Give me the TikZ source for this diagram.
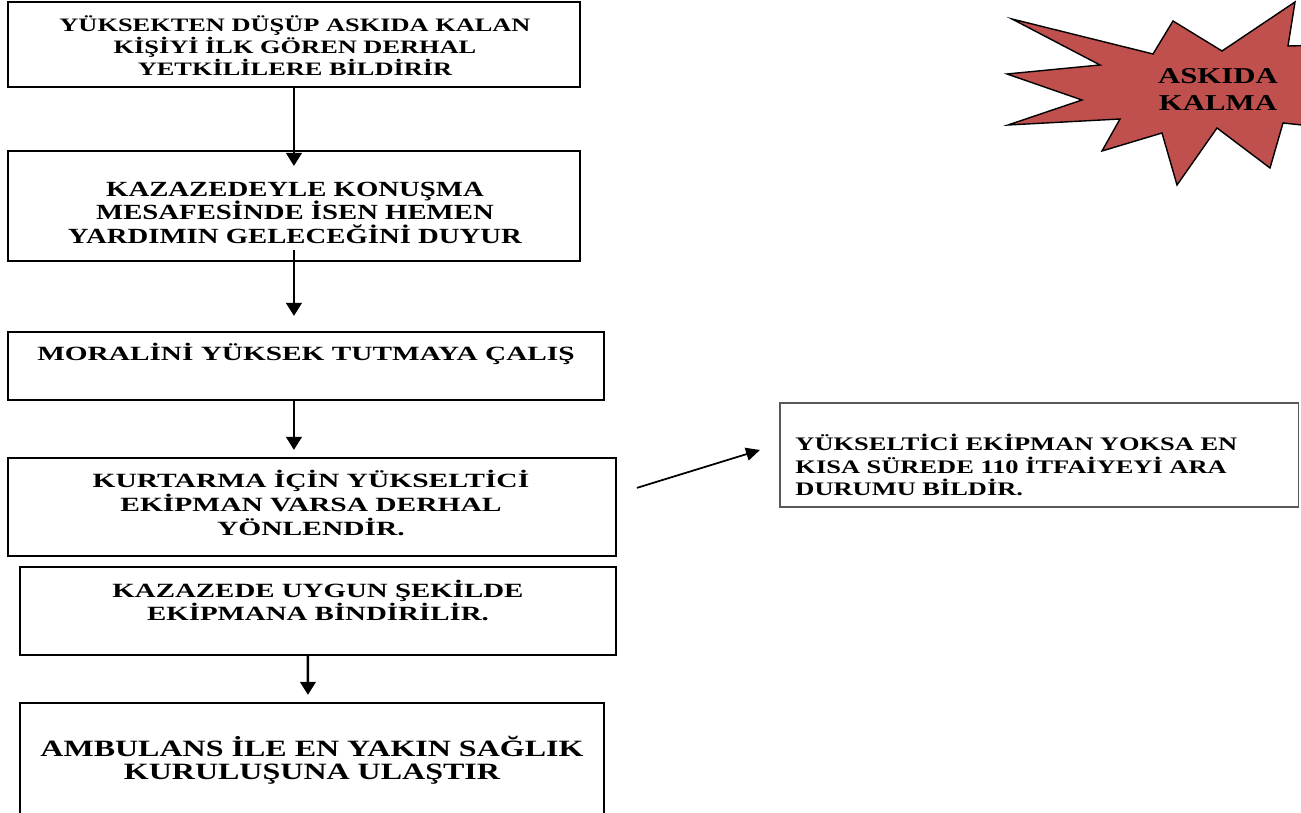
\documentclass[tikz,border=0pt]{standalone}
\usepackage{fontspec}
\setmainfont{Liberation Serif}
\usetikzlibrary{positioning, arrows.meta, calc}
\definecolor{starred}{HTML}{C0504D}
\tikzset{
  stepbox/.style = {rectangle, draw=black, line width=1pt, inner sep=0pt, outer sep=0pt},
  sidebox/.style = {rectangle, draw=black!65, line width=0.6pt, inner sep=0pt, outer sep=0pt},
  txt/.style     = {align=center, inner sep=0pt, font=\bfseries},
  wide/.style    = {xscale=#1, transform shape},
  flow/.style    = {line width=1.4pt, -{Triangle[length=2.6mm, width=3.1mm]}},
  side/.style    = {line width=1pt, -{Triangle[length=2.8mm, width=2.6mm]}},
  burst/.style   = {draw=black, line width=0.8pt, fill=starred, line join=miter},
}
\newcommand{\fsz}[2]{\fontsize{#1}{#2}\selectfont\lineskiplimit=-30pt\lineskip=0pt}

\begin{document}
\begin{tikzpicture}[x=0.02cm, y=-0.02cm]
\useasboundingbox (0,0) rectangle (1301,813);

% Main column, top to bottom
\node (b1) [stepbox, minimum width=11.44cm, minimum height=1.70cm, anchor=north west] at (8,2) {};
\node (b2) [stepbox, minimum width=11.44cm, minimum height=2.20cm, below right=1.28cm and 0cm of b1.south west] {};
\node (b3) [stepbox, minimum width=11.92cm, minimum height=1.36cm, below right=1.42cm and 0cm of b2.south west] {};
\node (b4) [stepbox, minimum width=12.16cm, minimum height=1.96cm, below right=1.16cm and 0cm of b3.south west] {};
\node (b5) [stepbox, minimum width=11.92cm, minimum height=1.76cm, below right=0.22cm and 0.24cm of b4.south west] {};
\node (b6) [stepbox, minimum width=11.68cm, minimum height=2.54cm, below right=0.96cm and 0cm of b5.south west] {};

% Side box for the case without equipment
\node (b7) [sidebox, minimum width=10.38cm, minimum height=2.08cm, anchor=north west] at (780,403) {};

% Texts (the lettering is stretched sideways)
\node (t1) [txt, wide=1.39, font=\fsz{10.8}{12.6}\bfseries] at (295,46) {YÜKSEKTEN DÜŞÜP ASKIDA KALAN\\KİŞİYİ İLK GÖREN DERHAL\\YETKİLİLERE BİLDİRİR};
\node (t2) [txt, wide=1.33, font=\fsz{12.3}{13.4}\bfseries] at (295,212.5) {KAZAZEDEYLE KONUŞMA\\MESAFESİNDE İSEN HEMEN\\YARDIMIN GELECEĞİNİ DUYUR};
\node (t3) [txt, wide=1.45, font=\fsz{11.5}{13}\bfseries] at (306,354) {MORALİNİ YÜKSEK TUTMAYA ÇALIŞ};
\node (t4) [txt, wide=1.46, font=\fsz{11.5}{13.8}\bfseries] at (311,503) {KURTARMA İÇİN YÜKSELTİCİ\\EKİPMAN VARSA DERHAL\\YÖNLENDİR.};
\node (t5) [txt, wide=1.43, font=\fsz{11.5}{13.3}\bfseries] at (318,600.5) {KAZAZEDE UYGUN ŞEKİLDE\\EKİPMANA BİNDİRİLİR.};
\node (t6) [txt, wide=1.37, font=\fsz{13.3}{13.1}\bfseries] at (312,760) {AMBULANS İLE EN YAKIN SAĞLIK\\KURULUŞUNA ULAŞTIR};
\node (t7) [txt, wide=1.38, align=left, anchor=west, font=\fsz{10.9}{12.7}\bfseries] at (795,465) {YÜKSELTİCİ EKİPMAN YOKSA EN\\KISA SÜREDE 110 İTFAİYEYİ ARA\\DURUMU BİLDİR.};

% Burst in the corner
\draw [burst] (1012,19) -- (1153,54) -- (1173,21) -- (1222,51) -- (1295,2) -- (1288,46)
  -- (1330,45) -- (1330,128) -- (1283,123) -- (1270,168) -- (1217,128) -- (1177,185)
  -- (1162,133) -- (1102,151) -- (1120,119) -- (1008,125) -- (1082,100) -- (1007,74)
  -- (1100,65) -- cycle;
\node (st) [txt, wide=1.36, font=\fsz{12.9}{15.2}\bfseries] at (1218,89.5) {ASKIDA\\KALMA};

% Arrows
\draw [flow] (b1.south) -- ($(b2.north)+(0,15)$);
\draw [flow] ($(b2.south)+(0,-11)$) -- ($(b3.north -| b2.south)+(0,-16)$);
\draw [flow] (b3.south -| b2.south) -- ($(b4.north -| b2.south)+(0,-8)$);
\draw [flow] ($(b5.south)+(-10,0)$) -- ($(b6.north)+(-4,-8)$);
\draw [side] ($(b4.east)+(21,-19)$) -- ($(b7.west)+(-20,-5)$);

\end{tikzpicture}
\end{document}
